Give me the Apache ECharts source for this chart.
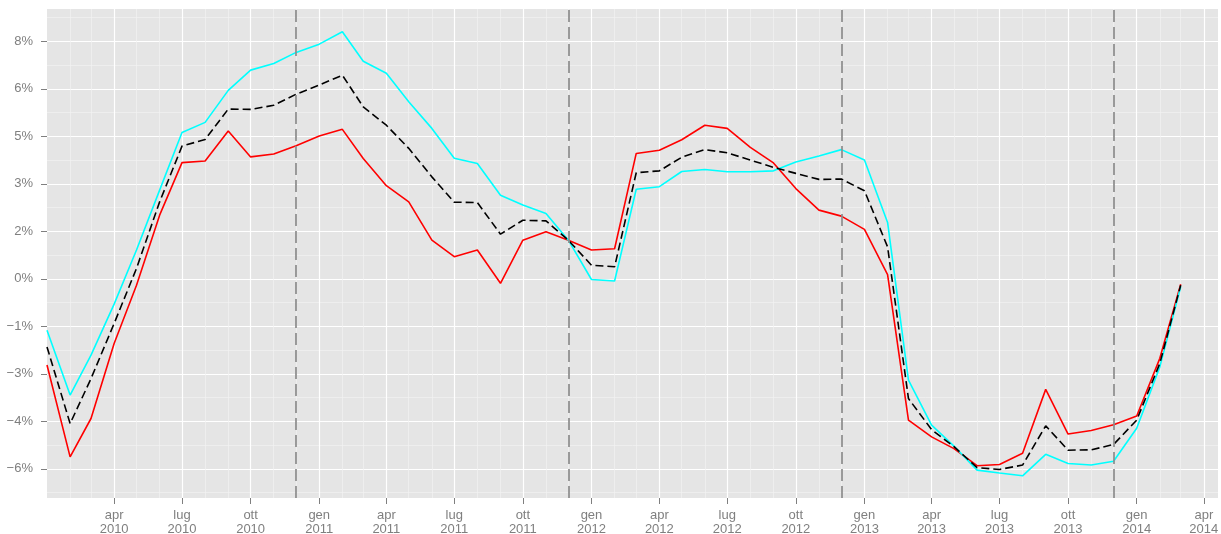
<!DOCTYPE html>
<html>
<head>
<meta charset="utf-8">
<script src="https://cdn.jsdelivr.net/npm/echarts@6/dist/echarts.min.js"></script>
<style>
  html, body { margin: 0; padding: 0; background: #ffffff; }
  #chart { width: 1221px; height: 534px; }
</style>
</head>
<body>
<div id="chart"></div>
<script>
// ---- data (percent) ----
const months = [
  '2010-01','2010-02','2010-03','2010-04','2010-05','2010-06','2010-07','2010-08','2010-09','2010-10','2010-11','2010-12',
  '2011-01','2011-02','2011-03','2011-04','2011-05','2011-06','2011-07','2011-08','2011-09','2011-10','2011-11','2011-12',
  '2012-01','2012-02','2012-03','2012-04','2012-05','2012-06','2012-07','2012-08','2012-09','2012-10','2012-11','2012-12',
  '2013-01','2013-02','2013-03','2013-04','2013-05','2013-06','2013-07','2013-08','2013-09','2013-10','2013-11','2013-12',
  '2014-01','2014-02','2014-03'
];
const redSeries = [
  -2.72, -5.62, -4.41, -2.04, -0.20, 2.01, 3.67, 3.72, 4.67, 3.85, 3.94, 4.20,
  4.51, 4.72, 3.80, 2.94, 2.43, 1.22, 0.70, 0.91, -0.14, 1.22, 1.49, 1.22,
  0.91, 0.95, 3.96, 4.06, 4.39, 4.85, 4.75, 4.15, 3.66, 2.85, 2.17, 1.98,
  1.56, 0.13, -4.46, -4.99, -5.36, -5.90, -5.86, -5.51, -3.49, -4.90, -4.79, -4.61,
  -4.33, -2.51, -0.17
];
const blackSeries = [
  -2.15, -4.57, -3.15, -1.41, 0.33, 2.43, 4.19, 4.40, 5.36, 5.35, 5.48, 5.83,
  6.12, 6.43, 5.43, 4.85, 4.12, 3.22, 2.42, 2.41, 1.41, 1.85, 1.83, 1.22,
  0.43, 0.38, 3.35, 3.41, 3.84, 4.08, 3.98, 3.75, 3.52, 3.33, 3.14, 3.15,
  2.78, 1.01, -3.78, -4.76, -5.30, -5.96, -6.02, -5.88, -4.64, -5.41, -5.40, -5.23,
  -4.46, -2.67, -0.20
];
const cyanSeries = [
  -1.62, -3.67, -2.41, -0.80, 0.91, 2.80, 4.62, 4.94, 5.95, 6.59, 6.80, 7.15,
  7.41, 7.80, 6.87, 6.49, 5.59, 4.75, 3.81, 3.64, 2.64, 2.33, 2.06, 1.22,
  -0.02, -0.07, 2.83, 2.91, 3.39, 3.45, 3.38, 3.38, 3.41, 3.69, 3.88, 4.08,
  3.75, 1.78, -3.20, -4.62, -5.28, -6.04, -6.13, -6.22, -5.54, -5.83, -5.88, -5.76,
  -4.72, -2.78, -0.25
];
const vlineDates = ['2010-12', '2011-12', '2012-12', '2013-12'];

// ---- ticks ----
const yTickValues = [-6, -4.5, -3, -1.5, 0, 1.5, 3, 4.5, 6, 7.5];
const yTickLabels = ['\u22126%', '\u22124%', '\u22123%', '\u22121%', '0%', '2%', '3%', '5%', '6%', '8%'];
const yMinorValues = [-6.75, -5.25, -3.75, -2.25, -0.75, 0.75, 2.25, 3.75, 5.25, 6.75, 8.25];
const xMajorTicks = [
  '2010-04','2010-07','2010-10','2011-01','2011-04','2011-07','2011-10','2012-01','2012-04','2012-07','2012-10',
  '2013-01','2013-04','2013-07','2013-10','2014-01','2014-04'
];
const xMinorTicks = [
  '2010-02','2010-03','2010-05','2010-06','2010-08','2010-09','2010-11','2010-12',
  '2011-02','2011-03','2011-05','2011-06','2011-08','2011-09','2011-11','2011-12',
  '2012-02','2012-03','2012-05','2012-06','2012-08','2012-09','2012-11','2012-12',
  '2013-02','2013-03','2013-05','2013-06','2013-08','2013-09','2013-11','2013-12',
  '2014-02','2014-03'
];
const monthNames = ['gen','feb','mar','apr','mag','giu','lug','ago','set','ott','nov','dic'];

function ts(s) { const p = s.split('-'); return Date.UTC(+p[0], +p[1] - 1, 1); }

const xMin = Date.UTC(2010, 0, 1);
const xMax = Date.UTC(2014, 3, 20);
const yMin = -6.92, yMax = 8.52;

function pairs(vals) { return months.map((m, i) => [ts(m), vals[i]]); }

const FONT = "'Liberation Sans', Arial, sans-serif";
const labelColor = '#7F7F7F';

const chart = echarts.init(document.getElementById('chart'), null, { renderer: 'canvas' });
chart.setOption({
  animation: false,
  backgroundColor: '#ffffff',
  grid: {
    left: 47, right: 3, top: 9, bottom: 36,
    containLabel: false, outerBoundsMode: 'none',
    show: true, backgroundColor: '#E5E5E5', borderWidth: 0
  },
  xAxis: [
    {
      type: 'value', min: xMin, max: xMax, scale: true,
      axisLine: { show: false, onZero: false },
      axisTick: { show: true, length: 6, customValues: xMajorTicks.map(ts), lineStyle: { color: labelColor, width: 1 } },
      axisLabel: {
        customValues: xMajorTicks.map(ts),
        color: labelColor, fontFamily: FONT, fontSize: 13, lineHeight: 14, margin: 10,
        hideOverlap: false,
        formatter: function (v) { const d = new Date(v); return monthNames[d.getUTCMonth()] + '\n' + d.getUTCFullYear(); }
      },
      splitLine: { show: true, lineStyle: { color: '#FFFFFF', width: 1.2 } }
    },
    {
      type: 'value', min: xMin, max: xMax, scale: true, position: 'bottom',
      axisLine: { show: false, onZero: false },
      axisTick: { show: false, customValues: xMinorTicks.map(ts) },
      axisLabel: { show: false, customValues: xMinorTicks.map(ts) },
      splitLine: { show: true, lineStyle: { color: '#F2F2F2', width: 0.7 } }
    }
  ],
  yAxis: [
    {
      type: 'value', min: yMin, max: yMax,
      axisLine: { show: false, onZero: false },
      axisTick: { show: true, length: 6, customValues: yTickValues, lineStyle: { color: labelColor, width: 1 } },
      axisLabel: {
        customValues: yTickValues,
        color: labelColor, fontFamily: FONT, fontSize: 13, margin: 14,
        formatter: function (v) {
          const i = yTickValues.findIndex(t => Math.abs(t - v) < 1e-6);
          return i >= 0 ? yTickLabels[i] : '';
        }
      },
      splitLine: { show: true, lineStyle: { color: '#FFFFFF', width: 1.2 } }
    },
    {
      type: 'value', min: yMin, max: yMax, position: 'left',
      axisLine: { show: false, onZero: false },
      axisTick: { show: false, customValues: yMinorValues },
      axisLabel: { show: false, customValues: yMinorValues },
      splitLine: { show: true, lineStyle: { color: '#F2F2F2', width: 0.7 } }
    }
  ],
  series: [
    {
      type: 'line', name: 'red', data: pairs(redSeries), showSymbol: false, symbol: 'none',
      lineStyle: { color: '#FF0000', width: 1.6 }, z: 3
    },
    {
      type: 'line', name: 'cyan', data: pairs(cyanSeries), showSymbol: false, symbol: 'none',
      lineStyle: { color: '#00FFFF', width: 1.6 }, z: 3
    },
    {
      type: 'line', name: 'black', data: pairs(blackSeries), showSymbol: false, symbol: 'none',
      lineStyle: { color: '#000000', width: 1.6, type: [8, 4] }, z: 4
    },
    {
      type: 'line', name: 'vlines', data: [], z: 5, silent: true,
      markLine: {
        symbol: 'none', silent: true, animation: false,
        label: { show: false },
        lineStyle: { color: '#8C8C8C', width: 1.7, type: [12, 5] },
        data: vlineDates.map(d => ({ xAxis: ts(d) }))
      }
    }
  ]
});
</script>
</body>
</html>
